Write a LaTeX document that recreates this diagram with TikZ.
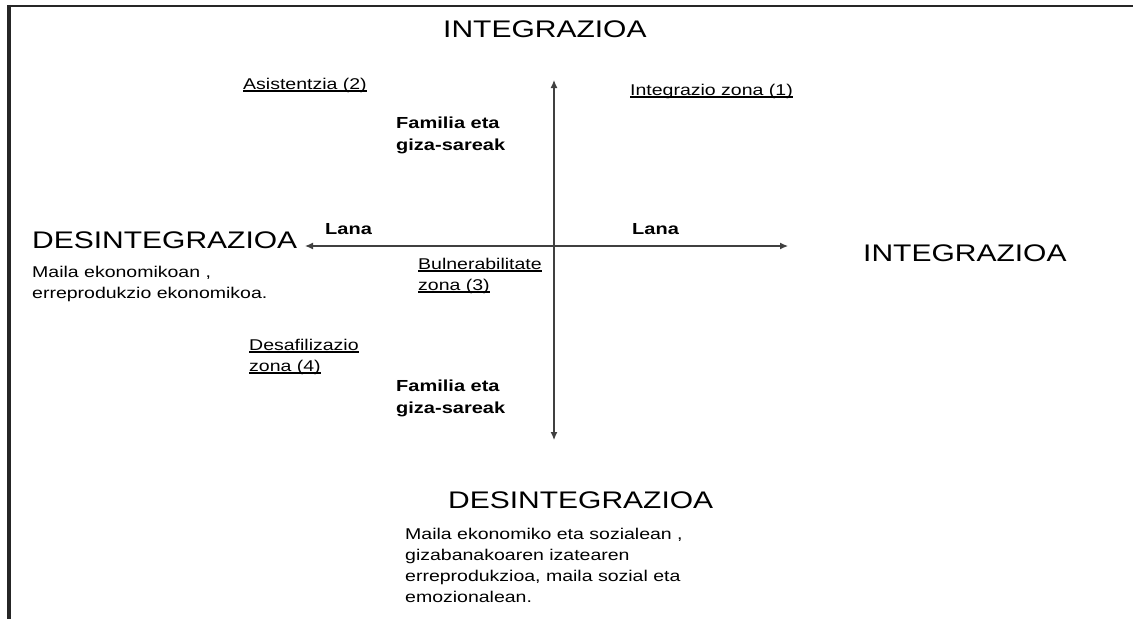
\documentclass[tikz,border=0pt]{standalone}
\usepackage{fontspec}
\setmainfont[FakeStretch=1.25]{Liberation Sans}
\usetikzlibrary{arrows.meta}
\newcommand{\zonaline}[1]{\setbox0\hbox{#1}\leavevmode\rlap{\rule[-2.6pt]{\wd0}{1.2pt}}\box0}

\begin{document}
\begin{tikzpicture}[x=1pt,y=-1pt,
  axis/.style={draw=black!75,line width=1.2pt,{Latex[length=8pt,width=7pt]}-{Latex[length=8pt,width=7pt]}}]

        \useasboundingbox (0,0) rectangle (1133,619);
        \draw[line width=2.5pt,black!85] (7,6) -- (1133,6);
        \draw[line width=4pt,black!85] (9,4.75) -- (9,619);

        \coordinate (N) at (554,80);
        \coordinate (S) at (554,440);
        \coordinate (W) at (305,246);
        \coordinate (E) at (788,246);
        \path[axis] (N) -- (S);
        \path[axis] (W) -- (E);

        \begin{scope}[every node/.style={inner sep=0pt, anchor=base west, font=\fontsize{24}{28}\selectfont}]
          \node (intN) at (443,37)  {INTEGRAZIOA};
          \node (intE) at (863,261) {INTEGRAZIOA};
          \node (desW) at (32,248)  {DESINTEGRAZIOA};
          \node (desS) at (448,508) {DESINTEGRAZIOA};
        \end{scope}

        \begin{scope}[every node/.style={inner sep=0pt, anchor=base west, align=left, font=\fontsize{16}{22}\selectfont\bfseries}]
          \node (famN)  at (396,150) {Familia eta\\giza-sareak};
          \node (famS)  at (396,413) {Familia eta\\giza-sareak};
          \node (lanaW) at (325,234) {Lana};
          \node (lanaE) at (632,234) {Lana};
        \end{scope}

        \begin{scope}[every node/.style={inner sep=0pt, anchor=base west, align=left, font=\fontsize{15.6}{21}\selectfont}]
          \node (z1) at (630,95)  {\zonaline{Integrazio zona (1)}};
          \node (z2) at (243,89)  {\zonaline{Asistentzia (2)}};
          \node (z3) at (418,290) {\zonaline{Bulnerabilitate}\\\zonaline{zona (3)}};
          \node (z4) at (249,371) {\zonaline{Desafilizazio}\\\zonaline{zona (4)}};
          \node (txtW) at (32,298)  {Maila ekonomikoan ,\\erreprodukzio ekonomikoa.};
          \node (txtS) at (405,602) {Maila ekonomiko eta sozialean ,\\gizabanakoaren izatearen\\erreprodukzioa, maila sozial eta\\emozionalean.};
        \end{scope}

      \end{tikzpicture}
\end{document}
